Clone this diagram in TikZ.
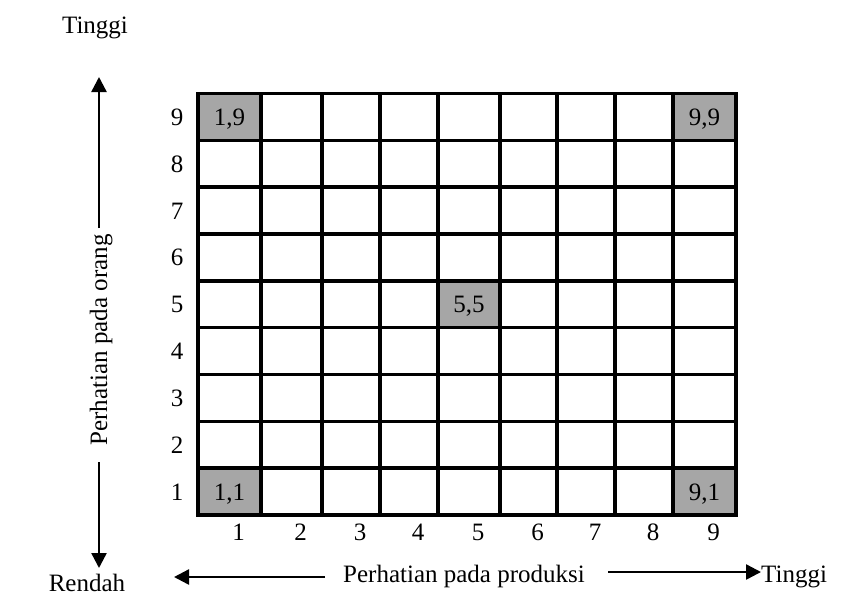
\documentclass[tikz,border=0pt]{standalone}
\usepackage{fontspec}
\setmainfont{Liberation Serif}
\usetikzlibrary{arrows.meta}
\definecolor{cellgray}{HTML}{A6A6A6}
\begin{document}
\begin{tikzpicture}[x=1pt,y=-1pt,
  txt/.style={inner sep=0pt,font=\fontsize{25}{30}\selectfont},
  gridline/.style={line width=3.6pt,line cap=rect},
  axis/.style={line width=2.4pt,-{Triangle[length=15pt,width=15pt]}}]
\useasboundingbox (0,0) rectangle (853,603);
\def\colx{{198,261,322,380,438,500,557,615,673,736}}
\def\rtop{93.5}
\def\rh{46.83}
% gray cells: (col,row) with row counted from bottom
\foreach \c/\r in {1/9,9/9,5/5,1/1,9/1}{
  \pgfmathsetmacro{\xa}{\colx[\c-1]}
  \pgfmathsetmacro{\xb}{\colx[\c]}
  \pgfmathsetmacro{\ya}{\rtop+(9-\r)*\rh}
  \pgfmathsetmacro{\yb}{\rtop+(10-\r)*\rh}
  \fill[cellgray] (\xa,\ya) rectangle (\xb,\yb);
  \node[txt,anchor=base] (cell\c\r) at ({(\xa+\xb)/2},{(\ya+\yb)/2+8.5}) {\c,\r};
}
% grid
\foreach \i in {0,...,9}{
  \pgfmathsetmacro{\xx}{\colx[\i]}
  \draw[gridline] (\xx,\rtop) -- (\xx,{\rtop+9*\rh});
}
\foreach \j in {0,...,9}{
  \draw[gridline] (198,{\rtop+\j*\rh}) -- (736,{\rtop+\j*\rh});
}
% row numbers (left)
\foreach \r in {1,...,9}{
  \node[txt,anchor=base] (row\r) at (177,{\rtop+(9.5-\r)*\rh+8.5}) {\r};
}
% column numbers (bottom)
\foreach \c in {1,...,9}{
  \pgfmathsetmacro{\xa}{\colx[\c-1]}
  \pgfmathsetmacro{\xb}{\colx[\c]}
  \node[txt,anchor=base] (col\c) at ({(\xa+\xb)/2+9},540.5) {\c};
}
% vertical axis
\node[txt,anchor=base] (ttop) at (95,33) {Tinggi};
\node[txt,anchor=base] (rendah) at (87,591) {Rendah};
\node[txt,rotate=90,anchor=base] (vlab) at (107,340) {Perhatian pada orang};
\coordinate (vup0) at (99,228);
\coordinate (vup1) at (99,77);
\coordinate (vdn0) at (99,462);
\coordinate (vdn1) at (99,568);
\draw[axis] (vup0) -- (vup1);
\draw[axis] (vdn0) -- (vdn1);
% horizontal axis
\node[txt,anchor=base] (hlab) at (464,582) {Perhatian pada produksi};
\node[txt,anchor=base west] (tright) at (761,582) {Tinggi};
\coordinate (hl0) at (325,577);
\coordinate (hl1) at (174,577);
\coordinate (hr0) at (608,572);
\draw[axis] (hl0) -- (hl1);
\draw[axis] (hr0) -- (tright.west |- hr0);
\end{tikzpicture}
\end{document}
